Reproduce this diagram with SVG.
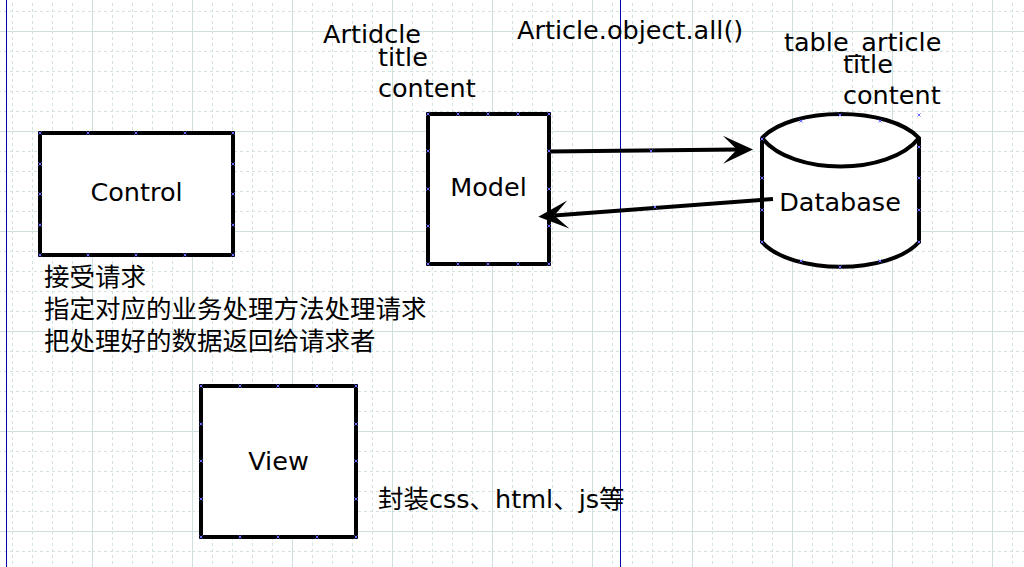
<svg xmlns="http://www.w3.org/2000/svg" xmlns:xlink="http://www.w3.org/1999/xlink" width="1024" height="567" viewBox="0 0 1024 567">
<style>
.box{fill:#fff;stroke:#000;stroke-width:4}
.lbl{font-family:"DejaVu Sans","Noto Sans CJK SC",sans-serif;font-size:25.5px;fill:#000}
.mid{text-anchor:middle}
.conn{fill:none;stroke:#000;stroke-width:4}
.guide{stroke:#0000b0;stroke-width:1}
.pt{stroke:#6a6aff;stroke-width:1;fill:none}
</style>
<defs>
<pattern id="grid" patternUnits="userSpaceOnUse" x="92" y="31" width="100" height="100">
<path d="M20.5,0V100M40.5,0V100M60.5,0V100M80.5,0V100M0,20.5H100M0,40.5H100M0,60.5H100M0,80.5H100" stroke="#d3e2df" stroke-width="1" stroke-dasharray="3,3" fill="none"/>
<path d="M0.5,0V100M0,0.5H100" stroke="#cfdfdc" stroke-width="1" fill="none"/>
</pattern>
<marker id="ah" markerUnits="userSpaceOnUse" orient="auto" overflow="visible" markerWidth="1" markerHeight="1" refX="0" refY="0">
<path d="M16,0L-14,-14L0,0L-14,14Z" fill="#000"/>
</marker>
<path id="x" class="pt" d="M-1.5,-1.5L1.5,1.5M-1.5,1.5L1.5,-1.5"/>
</defs>
<rect width="1024" height="567" fill="#fff"/>
<rect width="1024" height="567" fill="url(#grid)"/>
<path class="guide" d="M6.5,0V567M620.5,0V567"/>

<g id="control">
<rect class="box" x="40" y="133" width="193" height="122"/>
<text class="lbl mid" x="136.5" y="201">Control</text>
</g>
<g id="model">
<rect class="box" x="428" y="114" width="121" height="150"/>
<text class="lbl mid" x="488.5" y="196">Model</text>
</g>
<g id="view">
<rect class="box" x="201" y="386" width="155" height="151"/>
<text class="lbl mid" x="278.5" y="470">View</text>
</g>
<g id="database">
<path class="box" d="M762,138C792,106 889,106 919,138V242C889,275 792,275 762,242Z"/>
<path class="conn" d="M762,138C792,176 889,176 919,138"/>
<text class="lbl mid" x="840" y="211">Database</text>
</g>

<g id="connectors">
<path class="conn" marker-end="url(#ah)" d="M549,151.5L737,149.6"/>
<path class="conn" marker-end="url(#ah)" d="M773,199L554.3,215.5"/>
</g>

<g id="labels">
<text class="lbl" x="323" y="43">Artidcle</text>
<text class="lbl" x="378" y="66">title</text>
<text class="lbl" x="378" y="97">content</text>
<text class="lbl" x="517" y="39">Article.object.all()</text>
<text class="lbl" x="784" y="51">table_article</text>
<text class="lbl" x="843" y="73">title</text>
<text class="lbl" x="843" y="104">content</text>
<text class="lbl" x="44" y="286">接受请求</text>
<text class="lbl" x="44" y="318">指定对应的业务处理方法处理请求</text>
<text class="lbl" x="44" y="350">把处理好的数据返回给请求者</text>
<text class="lbl" x="378" y="508">封装css、html、js等</text>
</g>

<g id="points">
<use href="#x" x="40" y="133"/><use href="#x" x="88" y="133"/><use href="#x" x="136" y="133"/><use href="#x" x="185" y="133"/><use href="#x" x="233" y="133"/>
<use href="#x" x="40" y="255"/><use href="#x" x="88" y="255"/><use href="#x" x="136" y="255"/><use href="#x" x="185" y="255"/><use href="#x" x="233" y="255"/>
<use href="#x" x="40" y="164"/><use href="#x" x="40" y="194"/><use href="#x" x="40" y="225"/>
<use href="#x" x="233" y="164"/><use href="#x" x="233" y="194"/><use href="#x" x="233" y="225"/>
<use href="#x" x="428" y="114"/><use href="#x" x="458" y="114"/><use href="#x" x="488" y="114"/><use href="#x" x="518" y="114"/><use href="#x" x="549" y="114"/>
<use href="#x" x="428" y="264"/><use href="#x" x="458" y="264"/><use href="#x" x="488" y="264"/><use href="#x" x="518" y="264"/><use href="#x" x="549" y="264"/>
<use href="#x" x="428" y="151"/><use href="#x" x="428" y="189"/><use href="#x" x="428" y="226"/>
<use href="#x" x="549" y="151"/><use href="#x" x="549" y="189"/><use href="#x" x="549" y="226"/>
<use href="#x" x="651" y="151"/><use href="#x" x="655" y="207"/>
<use href="#x" x="201" y="386"/><use href="#x" x="240" y="386"/><use href="#x" x="278" y="386"/><use href="#x" x="317" y="386"/><use href="#x" x="356" y="386"/>
<use href="#x" x="201" y="537"/><use href="#x" x="240" y="537"/><use href="#x" x="278" y="537"/><use href="#x" x="317" y="537"/><use href="#x" x="356" y="537"/>
<use href="#x" x="201" y="424"/><use href="#x" x="201" y="461"/><use href="#x" x="201" y="499"/>
<use href="#x" x="356" y="424"/><use href="#x" x="356" y="461"/><use href="#x" x="356" y="499"/>
<use href="#x" x="762" y="139"/><use href="#x" x="762" y="178"/><use href="#x" x="762" y="210"/><use href="#x" x="762" y="242"/>
<use href="#x" x="919" y="147"/><use href="#x" x="919" y="178"/><use href="#x" x="919" y="210"/><use href="#x" x="919" y="242"/>
<use href="#x" x="801" y="121"/><use href="#x" x="840" y="115"/><use href="#x" x="880" y="121"/>
<use href="#x" x="801" y="261"/><use href="#x" x="840" y="267"/><use href="#x" x="880" y="261"/>
<use href="#x" x="919" y="115"/>
</g>
</svg>
